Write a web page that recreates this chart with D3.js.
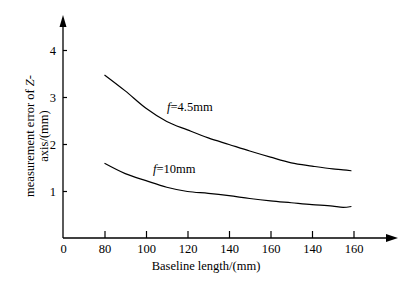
<!DOCTYPE html>
<html lang="en">
  <head>
    <meta charset="utf-8">
    <title>measurement error vs baseline length</title>
    <style>
      body { margin: 0; background: #fff; }
      svg text { font-family: "Liberation Serif", "Times New Roman", serif; fill: #000; }
    </style>
  </head>
  <body>
    <div id="chart"></div>
    <script src="https://d3js.org/d3.v7.min.js" charset="utf-8"></script>
    <script>
      // x positions in baseline units; the printed tick labels come from xLabels
      let xTicks = [60, 80, 100, 120, 140, 160, 180, 200];
      let xLabels = ['0', '80', '100', '120', '140', '160', '140', '160'];
      let yTicks = [1, 2, 3, 4];

      let baseline = [80, 90, 100, 110, 120, 130, 140, 150, 160, 170, 180, 190, 195, 199];
      let errF45 = [3.47, 3.13, 2.76, 2.48, 2.30, 2.13, 1.99, 1.85, 1.72, 1.60, 1.53, 1.47, 1.45, 1.43];
      let errF10 = [1.59, 1.37, 1.22, 1.08, 0.99, 0.95, 0.90, 0.84, 0.79, 0.75, 0.71, 0.68, 0.65, 0.67];

      let width = 420, height = 282;
      let svg = d3.select('#chart').append('svg')
        .attr('width', width).attr('height', height);

      let x = d3.scaleLinear().domain([60, 200]).range([63, 353.5]);
      let y = d3.scaleLinear().domain([0, 4]).range([238, 50]);

      // x axis
      let xAxis = d3.axisBottom(x)
        .tickValues(xTicks)
        .tickSize(-7)
        .tickPadding(6)
        .tickFormat((d, i) => xLabels[i]);
      let gx = svg.append('g').attr('transform', 'translate(0,' + y(0) + ')').call(xAxis);
      gx.select('.domain').remove();
      gx.selectAll('.tick line').attr('stroke', '#000').attr('stroke-width', 1.2);
      gx.selectAll('.tick').filter(d => d === 60).select('line').remove();
      gx.selectAll('text').style('font-size', '12.5px');

      // y axis
      let yAxis = d3.axisLeft(y)
        .tickValues(yTicks)
        .tickSize(-4)
        .tickPadding(7)
        .tickFormat(d3.format('d'));
      let gy = svg.append('g').attr('transform', 'translate(' + x(60) + ',0)').call(yAxis);
      gy.select('.domain').remove();
      gy.selectAll('.tick line').attr('stroke', '#000').attr('stroke-width', 1.2);
      gy.selectAll('text').style('font-size', '12.5px');

      // axis lines with arrow heads
      let x0 = x(60), y0 = y(0);
      svg.append('line').attr('x1', x0).attr('y1', y0).attr('x2', 388).attr('y2', y0)
        .attr('stroke', '#000').attr('stroke-width', 1.3);
      svg.append('path').attr('d', 'M398,' + y0 + 'L386,' + (y0 - 4) + 'L386,' + (y0 + 4) + 'Z')
        .attr('fill', '#000');
      svg.append('line').attr('x1', x0).attr('y1', y0).attr('x2', x0).attr('y2', 26)
        .attr('stroke', '#000').attr('stroke-width', 1.3);
      svg.append('path').attr('d', 'M' + x0 + ',15L' + (x0 - 3.5) + ',27L' + (x0 + 3.5) + ',27Z')
        .attr('fill', '#000');

      // curves
      let line = d3.line()
        .x((d, i) => x(baseline[i]))
        .y(d => y(d))
        .curve(d3.curveMonotoneX);
      [errF45, errF10].forEach(s => {
        svg.append('path').datum(s)
          .attr('d', line)
          .attr('fill', 'none')
          .attr('stroke', '#000')
          .attr('stroke-width', 1.2);
      });

      // curve labels
      function curveLabel(tx, ty, rest) {
        let t = svg.append('text').attr('x', tx).attr('y', ty).style('font-size', '12.5px');
        t.append('tspan').style('font-style', 'italic').text('f');
        t.append('tspan').text(rest);
      }
      curveLabel(167, 111, '=4.5mm');
      curveLabel(153, 173, '=10mm');

      // axis titles
      svg.append('text')
        .attr('x', 206).attr('y', 270)
        .attr('text-anchor', 'middle')
        .style('font-size', '12.5px')
        .text('Baseline length/(mm)');

      let yl = svg.append('text')
        .attr('transform', 'translate(34,136) rotate(-90)')
        .attr('text-anchor', 'middle')
        .style('font-size', '12.5px');
      yl.append('tspan').attr('x', 0).attr('dy', 0).text('measurement error of ');
      yl.append('tspan').style('font-style', 'italic').text('Z');
      yl.append('tspan').text('-');
      yl.append('tspan').attr('x', 0).attr('dy', 13.5).text('axis/(mm)');
    </script>
  </body>
</html>
